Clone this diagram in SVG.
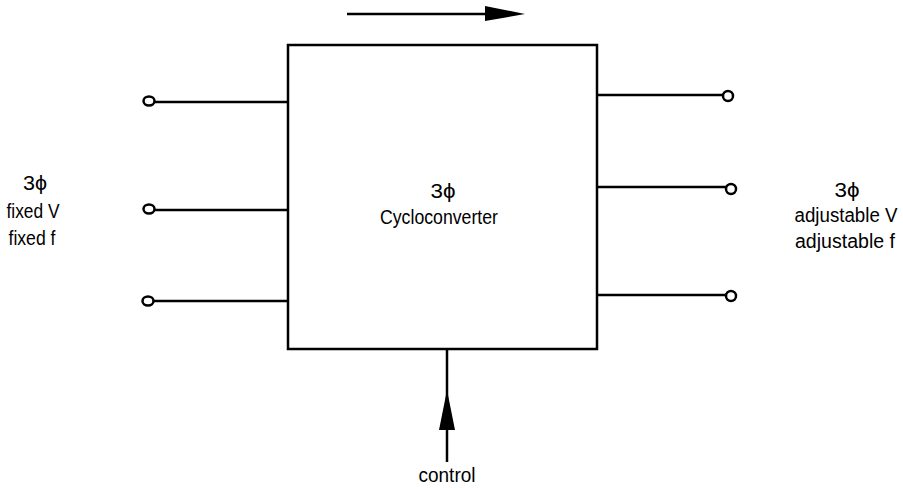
<svg xmlns="http://www.w3.org/2000/svg" width="903" height="489" viewBox="0 0 903 489">
<style>
.ln{stroke:#000;stroke-width:2.5;fill:none}
.term{stroke:#000;stroke-width:2.5;fill:#fff}
text{font-family:"Liberation Sans",Arial,sans-serif;font-size:20px;fill:#000;text-anchor:middle}
</style>
<rect width="903" height="489" fill="#fff"/>
<g id="cycloconverter">
<rect x="288" y="45" width="309" height="304" class="ln" stroke-width="3"/>
<text x="443" y="198" textLength="25" lengthAdjust="spacingAndGlyphs">3ϕ</text>
<text x="439" y="224" textLength="118" lengthAdjust="spacingAndGlyphs">Cycloconverter</text>
</g>
<g id="input">
<text x="35" y="190" textLength="24" lengthAdjust="spacingAndGlyphs">3ϕ</text>
<text x="33" y="218" textLength="53" lengthAdjust="spacingAndGlyphs">fixed V</text>
<text x="32" y="245" textLength="47" lengthAdjust="spacingAndGlyphs">fixed f</text>
</g>
<g id="output">
<text x="847" y="197" textLength="25" lengthAdjust="spacingAndGlyphs">3ϕ</text>
<text x="846" y="222" textLength="103" lengthAdjust="spacingAndGlyphs">adjustable V</text>
<text x="845" y="248" textLength="100" lengthAdjust="spacingAndGlyphs">adjustable f</text>
</g>
<g id="control">
<text x="447" y="482" font-size="17" textLength="57" lengthAdjust="spacingAndGlyphs">control</text>
</g>
<g id="connectors">
<line x1="154" y1="102" x2="288" y2="102" class="ln"/>
<line x1="154" y1="210" x2="288" y2="210" class="ln"/>
<line x1="153" y1="301" x2="288" y2="301" class="ln"/>
<ellipse cx="149" cy="101" rx="5.5" ry="4.5" class="term"/>
<ellipse cx="149" cy="209" rx="5.5" ry="4.5" class="term"/>
<ellipse cx="148" cy="301" rx="5.5" ry="4.5" class="term"/>
<line x1="597" y1="95" x2="723" y2="95" class="ln"/>
<line x1="597" y1="187" x2="726" y2="187" class="ln"/>
<line x1="597" y1="295" x2="726" y2="295" class="ln"/>
<ellipse cx="728" cy="96" rx="5" ry="5" class="term"/>
<ellipse cx="731" cy="189" rx="5" ry="5" class="term"/>
<ellipse cx="731" cy="296" rx="5" ry="5" class="term"/>
<line x1="347" y1="14" x2="500" y2="14" class="ln"/>
<polygon points="485,6 525,14 485,21" fill="#000"/>
<line x1="447" y1="349" x2="447" y2="462" class="ln"/>
<polygon points="447,390 439,430 455,430" fill="#000"/>
</g>
</svg>
